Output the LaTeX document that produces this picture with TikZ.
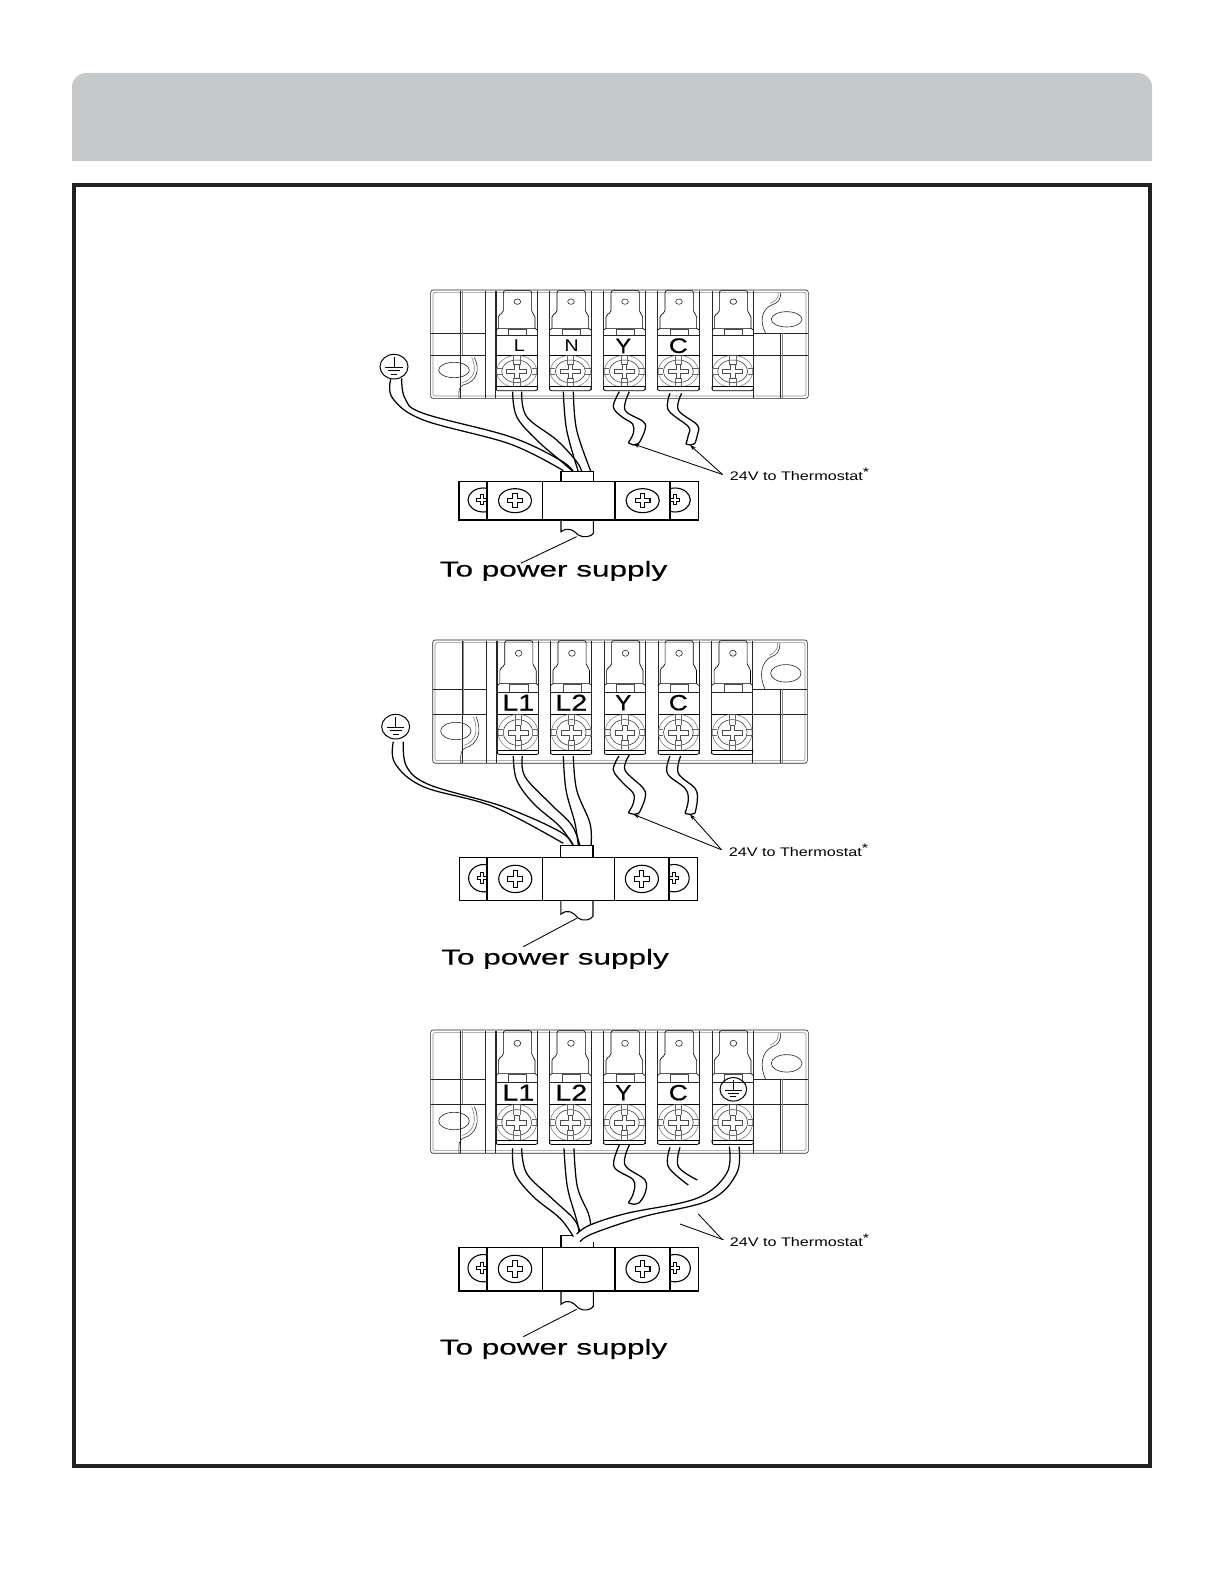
\documentclass[tikz,border=0pt]{standalone}
\usepackage{fontspec}
\setmainfont{Liberation Sans}
\newfontfamily\heavyfont[FakeBold=0.7]{Liberation Sans}
\newfontfamily\midfont[FakeBold=0.35]{Liberation Sans}
\usetikzlibrary{arrows.meta}
\definecolor{hdr}{HTML}{C6C8CA}
\definecolor{frm}{HTML}{222222}
\tikzset{
  blk/.style={line width=.6bp,black!85},
  wirel/.style={line width=1.25bp,black},
  lead/.style={line width=.85bp,black},
  arw/.style={line width=.85bp,black,-{Stealth[length=6bp,width=4bp]}},
  supply/.style={anchor=base west,inner sep=0,xscale=1.47,transform shape,font=\midfont\fontsize{21.5}{24}\selectfont},
  thermo/.style={anchor=base west,inner sep=0,xscale=1.30,transform shape,font=\fontsize{12.5}{14}\selectfont},
  bandlab/.style={inner sep=0,anchor=center}
}
\newcommand{\wireone}[1]{\draw[wirel] plot[smooth,tension=.6] coordinates {#1};}
\newcommand{\earthsym}[3]{% x y r
  \draw[line width=1bp] (#1,#2) circle[x radius=#3, y radius=#3*.88];
  \draw[line width=1bp] (#1,#2-#3*.7)--(#1,#2+#3*.05) (#1-#3*.62,#2+#3*.05)--(#1+#3*.62,#2+#3*.05)
    (#1-#3*.42,#2+#3*.3)--(#1+#3*.42,#2+#3*.3) (#1-#3*.22,#2+#3*.55)--(#1+#3*.22,#2+#3*.55);
}
\newcommand{\plusmark}[3]{% x y size
  \draw[line width=1bp] (#1-#3*.28,#2-#3) -- (#1-#3*.28,#2-#3*.28) -- (#1-#3,#2-#3*.28) -- (#1-#3,#2+#3*.28)
   -- (#1-#3*.28,#2+#3*.28) -- (#1-#3*.28,#2+#3) -- (#1+#3*.28,#2+#3) -- (#1+#3*.28,#2+#3*.28)
   -- (#1+#3,#2+#3*.28) -- (#1+#3,#2-#3*.28) -- (#1+#3*.28,#2-#3*.28) -- (#1+#3*.28,#2-#3) -- cycle;
}
% terminal block: origin x, origin y (px), sx, sy; drawn in zoom units (1/3 px)
\newcommand{\tblock}[4]{%
\begin{scope}[xshift=#1bp,yshift=-#2bp,x=#3*0.33333bp,y=-#4*0.33333bp,blk]
  \draw[rounded corners=2.5bp] (212,60) rectangle (1345,385);
  \draw[rounded corners=2bp,black!45] (219,67) rectangle (1338,378);
  % left end
  \draw (212,190)--(375,190) (212,255)--(375,255) (300,62)--(300,385);
  \draw[black!45] (306,62)--(306,255);
  \draw (375,62)--(375,385) (405,62)--(405,385);
  \draw (282,300) circle[x radius=46, y radius=23];
  \draw (343,262) .. controls (362,300) and (350,335) .. (310,345) .. controls (298,350) and (295,360) .. (297,385);
  \draw[black!50] (335,262) .. controls (352,300) and (342,328) .. (306,338);
  % right end
  \draw (1180,190)--(1345,190) (1180,255)--(1345,255) (1262,190)--(1262,385) (1180,62)--(1180,385);
  \draw[black!45] (1268,190)--(1268,385);
  \draw (1280,148) circle[x radius=46, y radius=23];
  \draw (1262,68) .. controls (1262,90) and (1255,98) .. (1235,105) .. controls (1205,118) and (1198,155) .. (1217,190);
  \draw[black!50] (1255,68) .. controls (1255,85) and (1250,92) .. (1230,100);
  \foreach \c in {472,633,795,957,1120}{
    % column frame
    \draw (\c-64,62)--(\c-64,360) (\c+60,62)--(\c+60,360);
    % tab
    \draw[rounded corners=2bp,line width=.65bp,black] (\c-57,175)--(\c-57,135)--(\c-42,128)--(\c-42,62)--(\c+43,62)--(\c+43,128)--(\c+53,135)--(\c+53,175);
    \draw (\c,95) circle[x radius=10, y radius=8];
    \draw[line width=.65bp,black] (\c-64,180)--(\c-57,175)--(\c+53,175)--(\c+60,180);
    \draw[black!70] (\c-27,178) rectangle (\c+28,197);
    \draw (\c-64,197)--(\c+60,197);
    \draw[line width=.7bp,black] (\c-64,257)--(\c+60,257);
    % screw
    \begin{scope}
      \clip (\c-64,257) rectangle (\c+60,350);
      \draw[line width=.45bp,black!60] (\c-2,304) circle[x radius=60, y radius=48];
    \end{scope}
    \draw[line width=.5bp] (\c-2,304) circle[x radius=45, y radius=34];
    \draw[line width=.4bp,black!60] (\c-12,257)--(\c-12,284) (\c+8,257)--(\c+8,284) (\c-12,324)--(\c-12,350) (\c+8,324)--(\c+8,350);
    \draw[line width=.4bp,black!60] (\c-64,296)--(\c-47,296) (\c-64,312)--(\c-47,312) (\c+43,296)--(\c+60,296) (\c+43,312)--(\c+60,312);
    \draw[black!70,line width=.5bp] (\c-9,284)--(\c+5,284)--(\c+5,297)--(\c+28,297)--(\c+28,311)--(\c+5,311)--(\c+5,324)--(\c-9,324)--(\c-9,311)--(\c-32,311)--(\c-32,297)--(\c-9,297)--cycle;
    % bottom lip
    \draw[line width=.7bp,black] (\c-64,350)--(\c+60,350);
    \draw[rounded corners=2bp,line width=.7bp,black] (\c-64,350)--(\c-64,362)--(\c+60,362)--(\c+60,350);
  }
\end{scope}}
% clamp: origin x, origin y, sx, sy
\newcommand{\clampbar}[5]{%
\begin{scope}[xshift=#1bp,yshift=-#2bp,x=#3*0.33333bp,y=-#4*0.33333bp]
  \draw[line width=1.1bp] (297,635) rectangle (1015,750);
  \draw[line width=1.7bp] (380,635)--(380,750);
  \draw[line width=1.1bp] (547,635)--(547,750) (765,635)--(765,750);
  \draw[line width=1.5bp] (930,635)--(930,750);
  \draw[line width=1.1bp] (465,692) circle[x radius=50, y radius=36];
  \draw[line width=1.1bp] (848,692) circle[x radius=50, y radius=36];
  \plusmark{465}{692}{22}
  \plusmark{848}{692}{22}
  \begin{scope}
    \clip (297,635) rectangle (378,750);
    \draw[line width=1.1bp] (370,690) circle[x radius=46, y radius=36];
    \plusmark{365}{690}{15}
  \end{scope}
  \begin{scope}
    \clip (932,635) rectangle (1015,750);
    \draw[line width=1.1bp] (945,690) circle[x radius=46, y radius=36];
    \plusmark{945}{690}{15}
  \end{scope}
  % lower stub
  \draw[line width=1.1bp] (603,750)--(603,785) .. controls (625,770) and (640,780) .. (655,795) .. controls (670,805) and (695,800) .. (700,790) -- (700,750);
  #5
\end{scope}}
\begin{document}
\begin{tikzpicture}[x=1bp,y=-1bp]
\useasboundingbox (0,0) rectangle (1224,1584);
\fill[white] (0,0) rectangle (1224,1584);
% header and frame
\path[fill=hdr,rounded corners=14bp] (72,161) -- (72,73) -- (1152,73) -- (1152,161);
\fill[hdr] (72,140) rectangle (1152,161);
\draw[line width=4bp,frm] (74,185) rectangle (1150,1466);

% ------------- Panel 1
\tblock{360}{270}{1}{1}
\clampbar{360}{270}{1}{1}{\draw[line width=1.1bp] (603,635)--(603,605)--(700,605)--(700,635);}
\begin{scope}[xshift=360bp,yshift=-270bp,x=0.33333bp,y=-0.33333bp]
  \earthsym{102}{290}{42}
  \wireone{(92,328)(98,385)(190,450)(450,522)(610,602)}
  \wireone{(125,325)(135,385)(190,430)(450,500)(600,570)(640,605)}
  \wireone{(458,365)(470,440)(530,510)(605,575)(640,605)}
  \wireone{(485,365)(500,440)(590,510)(650,575)(665,605)}
  \wireone{(610,365)(620,480)(655,605)}
  \wireone{(640,365)(650,480)(693,605)}
  \wireone{(778,365)(760,410)(785,440)(818,462)(820,490)(805,518)}
  \wireone{(808,365)(795,420)(850,455)(855,480)(838,518)}
  \wireone{(805,518)(822,525)(838,518)}
  \wireone{(930,370)(925,420)(985,470)(985,495)(978,522)}
  \wireone{(965,370)(955,420)(1012,465)(1012,495)(1005,520)}
  \wireone{(978,522)(992,525)(1005,520)}
  \coordinate (a1y) at (820,522); \coordinate (a1c) at (990,525);
  \coordinate (s1a) at (650,800); \coordinate (s1b) at (482,880);
  \node[bandlab,font=\fontsize{17}{20}\selectfont,xscale=1.15,transform shape] (l1a) at (478,226) {L};
  \node[bandlab,font=\fontsize{17}{20}\selectfont,xscale=1.15,transform shape] (l1b) at (635,226) {N};
  \node[bandlab,font=\heavyfont\fontsize{21}{24}\selectfont,xscale=1.1,transform shape] (l1c) at (790,228) {Y};
  \node[bandlab,font=\heavyfont\fontsize{21}{24}\selectfont,xscale=1.25,transform shape] (l1d) at (955,227) {C};
\end{scope}
\node[thermo] (t1) at (729.5,480.7) {24V to Thermostat\raisebox{4bp}{*}};
\node[supply] (p1) at (439.5,576.5) {To power supply};
\draw[arw] ([xshift=-7bp]t1.west) -- (a1y);
\draw[arw] ([xshift=-7bp]t1.west) -- (a1c);
\draw[lead] (s1a) -- (s1b);

% ------------- Panel 2
\tblock{362.6}{617.2}{.992}{1.138}
\clampbar{361.5}{616.2}{.992}{1.139}{\draw[line width=1.1bp] (603,635)--(603,605)--(700,605)--(700,635);}
\begin{scope}[xshift=360bp,yshift=-630bp,x=0.33333bp,y=-0.33333bp]
  \earthsym{107}{290}{42}
  \wireone{(100,335)(105,400)(190,470)(400,530)(610,640)}
  \wireone{(130,335)(140,410)(210,465)(430,530)(600,605)(640,648)}
  \wireone{(460,378)(470,450)(520,520)(600,590)(640,648)}
  \wireone{(487,378)(495,440)(570,520)(635,585)(660,648)}
  \wireone{(610,378)(618,480)(645,580)(655,648)}
  \wireone{(640,378)(650,480)(690,580)(693,648)}
  \wireone{(777,378)(760,420)(790,460)(820,490)(820,520)(805,548)}
  \wireone{(808,375)(795,420)(850,475)(855,505)(838,548)}
  \wireone{(805,548)(822,553)(838,548)}
  \wireone{(930,378)(922,430)(975,475)(985,510)(975,550)}
  \wireone{(962,378)(955,430)(1005,475)(1012,510)(1005,550)}
  \wireone{(975,550)(990,553)(1005,550)}
  \coordinate (a2y) at (820,553); \coordinate (a2c) at (990,553);
  \coordinate (s2a) at (650,865); \coordinate (s2b) at (490,950);
  \node[bandlab,font=\heavyfont\fontsize{23}{26}\selectfont,xscale=1.25,transform shape] (l2a) at (475,218) {L1};
  \node[bandlab,font=\heavyfont\fontsize{23}{26}\selectfont,xscale=1.25,transform shape] (l2b) at (634,218) {L2};
  \node[bandlab,font=\heavyfont\fontsize{22}{25}\selectfont,xscale=1.1,transform shape] (l2c) at (790,218) {Y};
  \node[bandlab,font=\heavyfont\fontsize{22}{25}\selectfont,xscale=1.2,transform shape] (l2d) at (955,218) {C};
\end{scope}
\node[thermo] (t2) at (728.5,856) {24V to Thermostat\raisebox{4bp}{*}};
\node[supply] (p2) at (441,964.5) {To power supply};
\draw[arw] ([xshift=-7bp]t2.west) -- (a2y);
\draw[arw] ([xshift=-7bp]t2.west) -- (a2c);
\draw[lead] (s2a) -- (s2b);

% ------------- Panel 3
\tblock{360}{1007.2}{1}{1.138}
\clampbar{360}{1006.2}{1}{1.139}{\draw[line width=1.1bp] (603,635)--(603,605)--(640,605) (700,620)--(700,635);}
\begin{scope}[xshift=360bp,yshift=-1010bp,x=0.33333bp,y=-0.33333bp]
  \earthsym{1120}{238}{40}
  \wireone{(458,415)(465,490)(520,560)(600,625)(640,680)}
  \wireone{(485,415)(500,490)(570,560)(640,625)(660,665)}
  \wireone{(612,415)(622,530)(650,630)(657,665)}
  \wireone{(642,415)(652,530)(685,610)(692,645)}
  \wireone{(778,405)(762,470)(820,510)(820,550)(805,578)}
  \wireone{(808,405)(795,465)(855,510)(855,550)(838,578)}
  \wireone{(805,578)(822,583)(838,578)}
  \wireone{(930,412)(925,470)(985,525)}
  \wireone{(960,412)(955,470)(1012,510)}
  \wireone{(1108,410)(1100,490)(1010,565)(800,610)(690,645)(650,672)}
  \wireone{(1137,410)(1130,490)(1050,570)(850,620)(700,670)(660,695)}
  \coordinate (a3y) at (960,642); \coordinate (a3c) at (1015,612);
  \coordinate (s3a) at (650,898); \coordinate (s3b) at (490,980);
  \node[bandlab,font=\heavyfont\fontsize{23}{26}\selectfont,xscale=1.25,transform shape] (l3a) at (475,248) {L1};
  \node[bandlab,font=\heavyfont\fontsize{23}{26}\selectfont,xscale=1.25,transform shape] (l3b) at (634,248) {L2};
  \node[bandlab,font=\heavyfont\fontsize{22}{25}\selectfont,xscale=1.1,transform shape] (l3c) at (790,248) {Y};
  \node[bandlab,font=\heavyfont\fontsize{22}{25}\selectfont,xscale=1.2,transform shape] (l3d) at (955,248) {C};
\end{scope}
\node[thermo] (t3) at (729.5,1246) {24V to Thermostat\raisebox{4bp}{*}};
\node[supply] (p3) at (439.5,1354.5) {To power supply};
\draw[lead] ([xshift=-6bp]t3.west) -- (a3y);
\draw[lead] ([xshift=-7bp]t3.west) -- (a3c);
\draw[lead] (s3a) -- (s3b);
\end{tikzpicture}
\end{document}
